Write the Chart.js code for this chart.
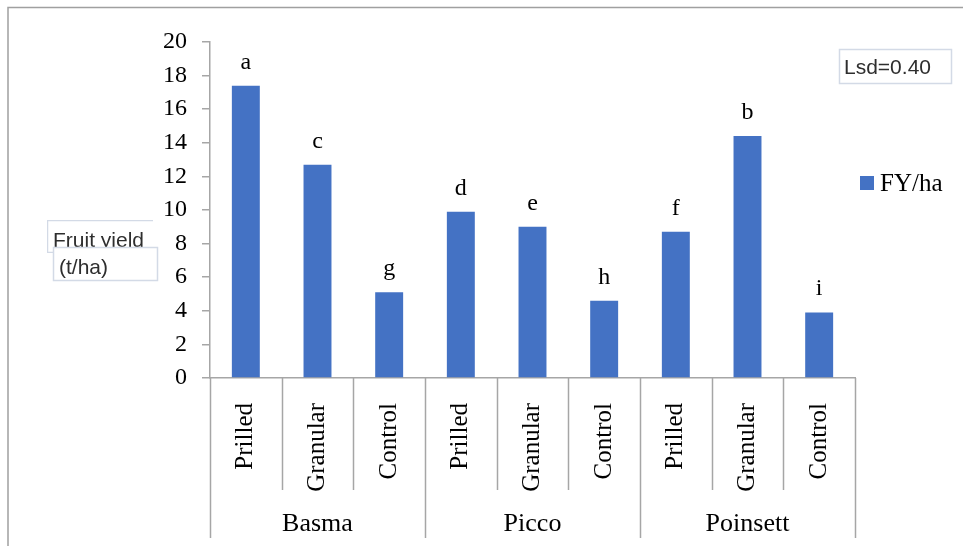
<!DOCTYPE html>
<html>
<head>
<meta charset="utf-8">
<style>
  html, body { margin: 0; padding: 0; background: #ffffff; }
  #wrap { width: 963px; height: 546px; position: relative; }
</style>
<script src="https://cdn.jsdelivr.net/npm/chart.js@4/dist/chart.umd.min.js"></script>
</head>
<body>
<div id="wrap"><canvas id="chart" width="963" height="546"></canvas></div>
<script>
// Varieties and fertilizer forms
const groups = ['Basma', 'Picco', 'Poinsett'];
const treatments = ['Prilled', 'Granular', 'Control'];
// Fruit yield (t/ha), one value per variety × treatment
const fyValues = [17.4, 12.7, 5.1, 9.9, 9.0, 4.6, 8.7, 14.4, 3.9];
// Mean separation letters
const sigLetters = ['a', 'c', 'g', 'd', 'e', 'h', 'f', 'b', 'i'];
const yTicks = [0, 2, 4, 6, 8, 10, 12, 14, 16, 18, 20];
const seriesName = 'FY/ha';
const lsdText = 'Lsd=0.40';
const yTitleLines = ['Fruit yield', '(t/ha)'];

const categoryLabels = [];
groups.forEach(() => treatments.forEach(t => categoryLabels.push(t)));

const BAR = '#4472C4';
const AXIS = '#a6a6a6';
const SERIF = '"Liberation Serif", "Times New Roman", serif';
const SANS = '"Liberation Sans", Arial, sans-serif';

const decorations = {
  id: 'decorations',
  afterDraw(chart) {
    const ctx = chart.ctx;
    const x = chart.scales.x;
    const area = chart.chartArea;
    const n = categoryLabels.length;
    const half = (x.getPixelForValue(1) - x.getPixelForValue(0)) / 2;

    ctx.save();
    // category separators under the axis; longer ones split the varieties
    ctx.strokeStyle = AXIS;
    ctx.lineWidth = 1.5;
    for (let i = 0; i <= n; i++) {
      const px = Math.round(x.getPixelForValue(i) - half) + 0.5;
      const yEnd = (i % treatments.length === 0) ? 538 : 490;
      ctx.beginPath();
      ctx.moveTo(px, area.bottom);
      ctx.lineTo(px, yEnd);
      ctx.stroke();
    }

    // variety names
    ctx.fillStyle = '#000';
    ctx.font = '26px ' + SERIF;
    ctx.textAlign = 'center';
    ctx.textBaseline = 'alphabetic';
    groups.forEach((g, gi) => {
      const a = x.getPixelForValue(gi * 3) - half;
      const b = x.getPixelForValue(gi * 3 + 2) + half;
      ctx.fillText(g, (a + b) / 2, 531);
    });

    // significance letters above bars
    ctx.font = '24px ' + SERIF;
    const meta = chart.getDatasetMeta(0);
    meta.data.forEach((bar, i) => {
      ctx.fillText(sigLetters[i], bar.x, bar.y - 17);
    });

    // legend
    ctx.fillStyle = BAR;
    ctx.fillRect(860, 176, 14, 14);
    ctx.fillStyle = '#000';
    ctx.textAlign = 'left';
    ctx.font = '25px ' + SERIF;
    ctx.fillText(chart.data.datasets[0].label, 880, 191);

    // LSD note
    ctx.strokeStyle = '#d3dae6';
    ctx.lineWidth = 1.5;
    ctx.strokeRect(839.5, 49.5, 112, 34);
    ctx.fillStyle = '#2e2e2e';
    ctx.font = '21px ' + SANS;
    ctx.textBaseline = 'middle';
    ctx.fillText(lsdText, 844, 68);

    // y-axis title boxes
    ctx.save();
    ctx.beginPath();
    ctx.rect(47, 220, 106, 33);
    ctx.clip();
    ctx.fillStyle = '#ffffff';
    ctx.fillRect(47, 220, 106, 33);
    ctx.strokeStyle = '#d3dae6';
    ctx.strokeRect(47.5, 220.5, 110, 32);
    ctx.fillStyle = '#2e2e2e';
    ctx.font = '21px ' + SANS;
    ctx.fillText(yTitleLines[0], 53, 241);
    ctx.restore();

    ctx.fillStyle = '#ffffff';
    ctx.fillRect(53, 247, 105, 34);
    ctx.strokeStyle = '#d3dae6';
    ctx.strokeRect(53.5, 247.5, 104, 33);
    ctx.fillStyle = '#2e2e2e';
    ctx.font = '21px ' + SANS;
    ctx.fillText(yTitleLines[1], 59, 268);

    // outer frame
    ctx.strokeStyle = '#a0a0a0';
    ctx.lineWidth = 1.5;
    ctx.beginPath();
    ctx.moveTo(8, 546);
    ctx.lineTo(8, 7.5);
    ctx.lineTo(963, 7.5);
    ctx.stroke();
    ctx.restore();
  }
};

new Chart(document.getElementById('chart'), {
  type: 'bar',
  data: {
    labels: categoryLabels,
    datasets: [{
      label: seriesName,
      data: fyValues,
      backgroundColor: BAR,
      borderWidth: 0,
      categoryPercentage: 1,
      barPercentage: 0.39
    }]
  },
  options: {
    responsive: false,
    animation: false,
    devicePixelRatio: 1,
    layout: { padding: { left: 0, top: 42, right: 108, bottom: 0 } },
    plugins: {
      legend: { display: false },
      tooltip: { enabled: false },
      title: { display: false }
    },
    scales: {
      x: {
        grid: { display: false },
        border: { display: true, color: AXIS, width: 1.5 },
        ticks: {
          autoSkip: false,
          minRotation: 90,
          maxRotation: 90,
          padding: 17,
          color: '#000',
          font: { family: SERIF, size: 25 }
        },
        afterFit(scale) { scale.height = 168; }
      },
      y: {
        min: 0,
        max: 20,
        afterBuildTicks(scale) { scale.ticks = yTicks.map(v => ({ value: v })); },
        grid: { drawOnChartArea: false, tickLength: 8, color: AXIS, lineWidth: 1.5 },
        border: { display: true, color: AXIS, width: 1.5 },
        ticks: {
          padding: 15,
          color: '#000',
          font: { family: SERIF, size: 24 }
        },
        afterFit(scale) { scale.width = 210; }
      }
    }
  },
  plugins: [decorations]
});
</script>
</body>
</html>
